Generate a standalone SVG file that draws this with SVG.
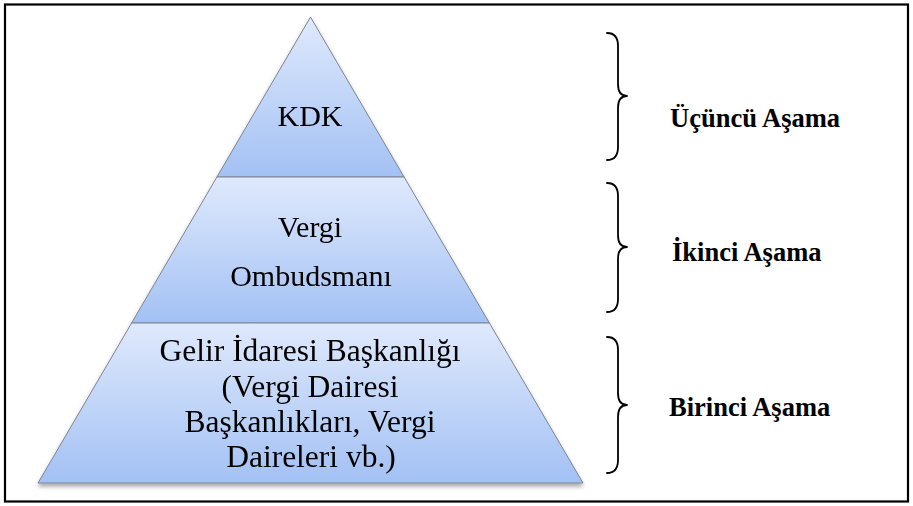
<svg xmlns="http://www.w3.org/2000/svg" width="913" height="506" viewBox="0 0 913 506">
  <defs>
    <linearGradient id="seg" x1="0" y1="0" x2="0" y2="1">
      <stop offset="0" stop-color="#dfe9fc"/>
      <stop offset="1" stop-color="#a3c1f4"/>
    </linearGradient>
    <filter id="shadow" x="-10%" y="-10%" width="120%" height="125%">
      <feDropShadow dx="0" dy="3" stdDeviation="2" flood-color="#000" flood-opacity="0.35"/>
    </filter>
  </defs>
  <style>
    .seg { fill: url(#seg); stroke: #7d8592; stroke-width: 1; }
    .t { font-family: "Liberation Serif", "Times New Roman", serif; font-size: 30px; fill: #000; text-anchor: middle; }
    .t2 { font-size: 31.5px; }
    .lbl { font-family: "Liberation Serif", "Times New Roman", serif; font-size: 26.5px; font-weight: bold; fill: #000; }
    .brace { fill: none; stroke: #000; stroke-width: 1.8; stroke-linecap: round; stroke-linejoin: round; }
  </style>
  <rect x="0" y="0" width="913" height="506" fill="#fff"/>
  <rect x="5" y="4.5" width="903" height="497" fill="none" stroke="#000" stroke-width="2.2"/>

  <g filter="url(#shadow)">
    <g id="level3">
      <polygon class="seg" points="310.5,17 404.1,177 216.9,177"/>
      <text class="t" x="310" y="126">KDK</text>
    </g>
    <g id="level2">
      <polygon class="seg" points="216.9,177 404.1,177 489.4,323 131.6,323"/>
      <text class="t" x="310" y="237">Vergi</text>
      <text class="t" x="311" y="286">Ombudsmanı</text>
    </g>
    <g id="level1">
      <polygon class="seg" points="131.6,323 489.4,323 583,483 38,483"/>
      <text class="t t2" x="310" y="361">Gelir İdaresi Başkanlığı</text>
      <text class="t t2" x="310" y="397">(Vergi Dairesi</text>
      <text class="t t2" x="310" y="432">Başkanlıkları, Vergi</text>
      <text class="t t2" x="311" y="467">Daireleri vb.)</text>
    </g>
  </g>

  <g id="connectors">
    <path class="brace" d="M607,33 Q618,33 618,46 L618,84 Q618,96 627,96 Q618,96 618,108 L618,147 Q618,160 607,160"/>
    <path class="brace" d="M607,183 Q618,183 618,196 L618,235 Q618,247 627,247 Q618,247 618,259 L618,299 Q618,312 607,312"/>
    <path class="brace" d="M607,337 Q618,337 618,350 L618,393 Q618,405 627,405 Q618,405 618,417 L618,460 Q618,473 607,473"/>
  </g>

  <g id="label3"><text class="lbl" x="670" y="127">Üçüncü Aşama</text></g>
  <g id="label2"><text class="lbl" x="672" y="261">İkinci Aşama</text></g>
  <g id="label1"><text class="lbl" x="669" y="416">Birinci Aşama</text></g>
</svg>
